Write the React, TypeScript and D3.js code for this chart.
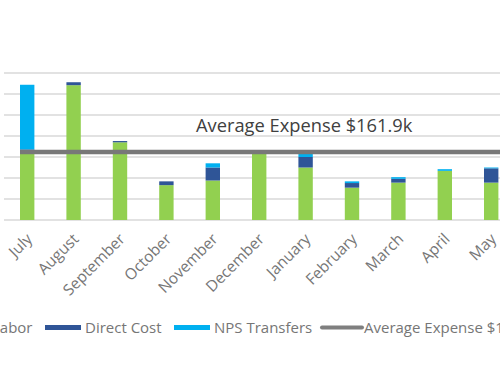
import React from "react";
import * as d3 from "d3";

const months = ["July", "August", "September", "October", "November", "December", "January", "February", "March", "April", "May"];
const labor = [160, 321, 185, 83, 94, 163, 125, 77, 89, 117, 89];
const directCost = [8, 7, 3, 9, 31, 0, 25, 11, 9, 0, 34];
const npsTransfers = [154, 0, 0, 0, 10, 0, 9, 4, 4, 4, 2];
const averageExpense = 161.9;
const yTicks = [0, 50, 100, 150, 200, 250, 300, 350];
const seriesNames = ["Labor", "Direct Cost", "NPS Transfers", "Average Expense $161.9k"];
const colors = ["#92d050", "#2f5597", "#00b0f0", "#7f7f7f"];

const W = 500;
const H = 383;

export default function App() {
  const x = d3.scaleBand<string>().domain(months).range([4, 4 + 11 * 46.4]).paddingInner(0.69).paddingOuter(0.345);
  const y = d3.scaleLinear().domain([0, 350]).range([220, 73]);
  const rows = months.map((m, i) => ({ m, labor: labor[i], direct: directCost[i], nps: npsTransfers[i] }));
  const stack = d3.stack<any>().keys(["labor", "direct", "nps"])(rows);
  const avgLine = d3.line<number>().x((d) => d).y(() => y(averageExpense));
  const font = "'Open Sans', sans-serif";

  const legendItems = [
    { sx: -48, tx: -8 },
    { sx: 45, tx: 85 },
    { sx: 174, tx: 214 },
    { sx: 322, tx: 364 },
  ];

  return (
    <div style={{ position: "absolute", left: 0, top: 0, width: W, height: H, overflow: "hidden", background: "#fff" }}>
      <svg width={W} height={H} style={{ display: "block" }}>
        <rect width={W} height={H} fill="#fff" />
        {yTicks.map((t) => (
          <line key={t} x1={4} x2={W + 20} y1={y(t)} y2={y(t)} stroke="#d9d9d9" strokeWidth={1.3} />
        ))}
        {stack.map((s, si) => (
          <g key={si} fill={colors[si]}>
            {s.map((d, i) => (
              <rect key={i} x={x(months[i])} width={x.bandwidth()} y={y(d[1])} height={Math.max(0, y(d[0]) - y(d[1]))} />
            ))}
          </g>
        ))}
        <path d={avgLine([x(months[0]) as number, W + 20]) || ""} stroke="#787878" strokeWidth={4.5} fill="none" />
        <text x={196} y={132} fontFamily={font} fontSize={18.3} fill="#404040">
          Average Expense $161.9k
        </text>
        {months.map((m) => {
          const cx = (x(m) as number) + x.bandwidth() / 2 + 6;
          const cy = 240;
          return (
            <text key={m} x={cx} y={cy} transform={`rotate(-45 ${cx} ${cy})`} textAnchor="end" fontFamily={font} fontSize={15.5} fill="#767676">
              {m}
            </text>
          );
        })}
        {legendItems.map((it, i) => (
          <g key={i}>
            {i < 3 ? (
              <rect x={it.sx} y={325} width={36} height={5} fill={colors[i]} />
            ) : (
              <line x1={it.sx} x2={it.sx + 40} y1={327.5} y2={327.5} stroke={colors[i]} strokeWidth={4} strokeLinecap="round" />
            )}
            <text x={it.tx} y={332.5} fontFamily={font} fontSize={15} fill="#767676">
              {seriesNames[i]}
            </text>
          </g>
        ))}
      </svg>
    </div>
  );
}
